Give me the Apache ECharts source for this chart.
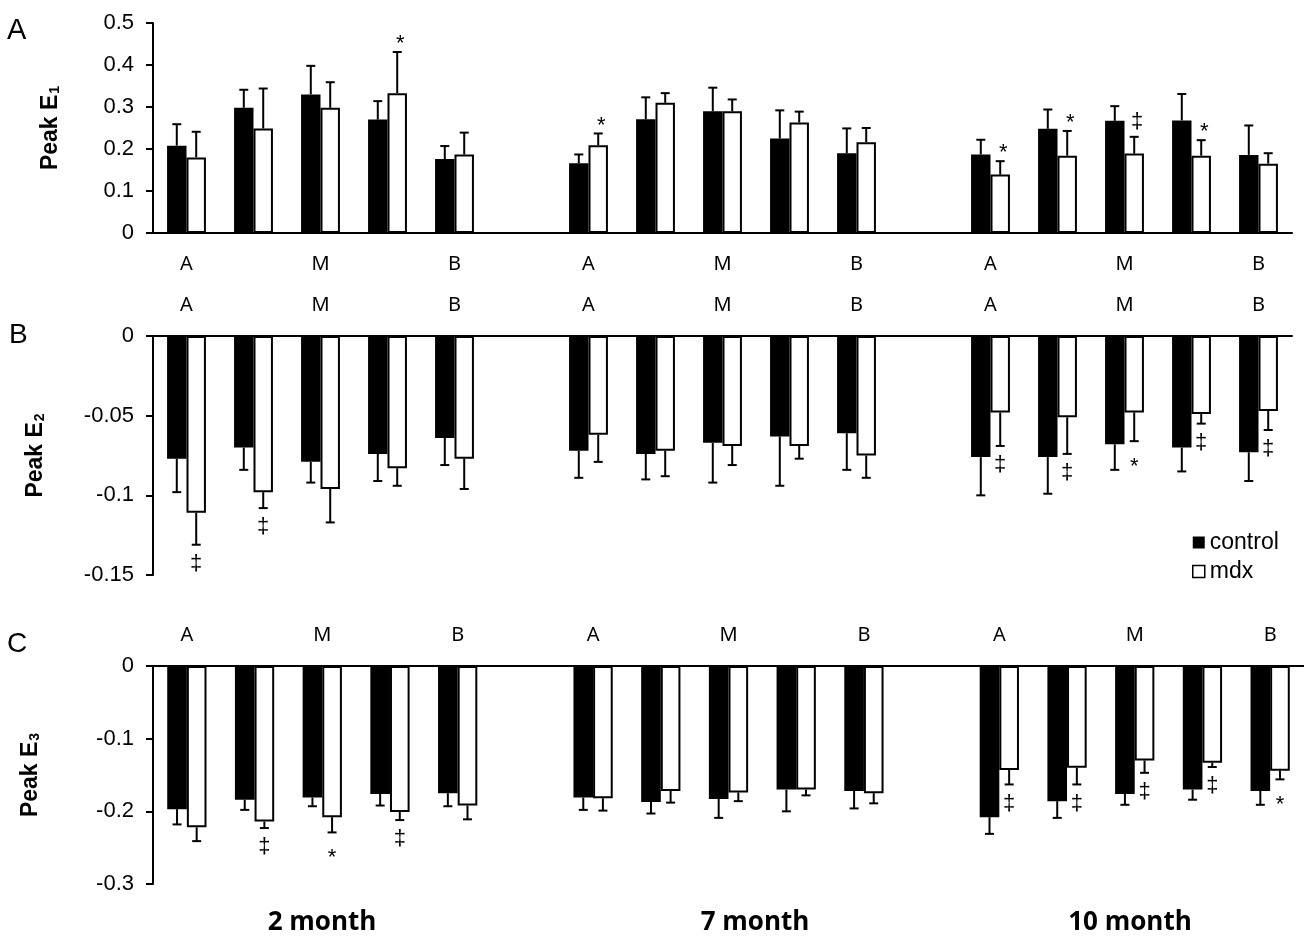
<!DOCTYPE html>
<html>
<head>
<meta charset="utf-8">
<title>Peak E1 E2 E3</title>
<script src="https://cdn.jsdelivr.net/npm/echarts@6/dist/echarts.min.js"></script>
<style>
  html, body { margin: 0; padding: 0; background: #fff; }
  #chart { width: 1304px; height: 939px; }
</style>
</head>
<body>
<div id="chart"></div>
<script>
// ages and site labels (A = apex, M = mid, B = base)
var ages = ['2 month', '7 month', '10 month'];
var sites = ['A', '', 'M', '', 'B'];

// Peak E1
var e1Control    = [0.208, 0.298, 0.330, 0.270, 0.176,  0.166, 0.271, 0.290, 0.225, 0.190,  0.187, 0.248, 0.267, 0.268, 0.186];
var e1ControlErr = [0.051, 0.043, 0.068, 0.044, 0.031,  0.021, 0.052, 0.056, 0.067, 0.059,  0.035, 0.046, 0.035, 0.063, 0.070];
var e1Mdx        = [0.180, 0.249, 0.298, 0.333, 0.187,  0.209, 0.310, 0.290, 0.263, 0.216,  0.139, 0.184, 0.189, 0.184, 0.165];
var e1MdxErr     = [0.061, 0.095, 0.061, 0.098, 0.052,  0.028, 0.023, 0.028, 0.026, 0.034,  0.032, 0.059, 0.040, 0.037, 0.025];
var e1Sig        = ['', '', '', '*', '',  '*', '', '', '', '',  '*', '*', '‡', '*', ''];

// Peak E2
var e2Control    = [-0.077, -0.070, -0.079, -0.074, -0.064,  -0.072, -0.074, -0.067, -0.063, -0.061,  -0.076, -0.076, -0.068, -0.070, -0.073];
var e2ControlErr = [0.021, 0.014, 0.013, 0.017, 0.017,  0.017, 0.016, 0.025, 0.031, 0.023,  0.024, 0.023, 0.016, 0.015, 0.018];
var e2Mdx        = [-0.111, -0.098, -0.096, -0.083, -0.077,  -0.062, -0.072, -0.069, -0.069, -0.075,  -0.048, -0.051, -0.048, -0.049, -0.047];
var e2MdxErr     = [0.020, 0.010, 0.021, 0.011, 0.019,  0.017, 0.016, 0.012, 0.008, 0.014,  0.021, 0.023, 0.018, 0.006, 0.012];
var e2Sig        = ['‡', '‡', '', '', '',  '', '', '', '', '',  '‡', '‡', '*', '‡', '‡'];

// Peak E3
var e3Control    = [-0.197, -0.184, -0.181, -0.176, -0.175,  -0.181, -0.187, -0.183, -0.170, -0.172,  -0.208, -0.186, -0.176, -0.170, -0.172];
var e3ControlErr = [0.021, 0.014, 0.012, 0.016, 0.018,  0.017, 0.016, 0.026, 0.030, 0.024,  0.023, 0.023, 0.015, 0.014, 0.019];
var e3Mdx        = [-0.222, -0.214, -0.208, -0.201, -0.192,  -0.182, -0.172, -0.174, -0.170, -0.175,  -0.143, -0.140, -0.130, -0.133, -0.144];
var e3MdxErr     = [0.019, 0.009, 0.021, 0.011, 0.019,  0.017, 0.016, 0.012, 0.008, 0.014,  0.020, 0.023, 0.017, 0.006, 0.012];
var e3Sig        = ['', '‡', '*', '‡', '',  '', '', '', '', '',  '‡', '‡', '‡', '‡', '*'];

var ARIAL = '"Liberation Sans", Arial, sans-serif';
var BAR_W = 0.29; // fraction of a category slot
// where the glyph's middle sits relative to the text box middle
var glyphMid = { '*': -5, '‡': 2 };

// 5 sites per age, one empty slot between ages
var cats = [];
ages.forEach(function (a, i) {
    sites.forEach(function (s) { cats.push(s); });
    if (i < ages.length - 1) cats.push(' ');
});
function slotOf(i) { return i + Math.floor(i / 5); }
function slots(arr) {
    var out = [];
    arr.forEach(function (v, i) {
        out.push(v);
        if (i % 5 == 4 && i < arr.length - 1) out.push('-');
    });
    return out;
}

function barSeries(name, idx, values) {
    var isCtl = name == 'control';
    return {
        name: name,
        type: 'bar',
        xAxisIndex: idx,
        yAxisIndex: idx,
        data: slots(values),
        barWidth: (BAR_W * 100) + '%',
        barGap: '0%',
        itemStyle: isCtl ? { color: '#000' } : { color: '#fff', borderColor: '#000', borderWidth: 2 },
        emphasis: { disabled: true },
        silent: true
    };
}

// error bars (and significance marks) drawn on top of bars
function errSeries(idx, values, errs, side, sig, sigDy) {
    var data = values.map(function (v, i) { return [slotOf(i), v, errs[i], i]; });
    return {
        type: 'custom',
        xAxisIndex: idx,
        yAxisIndex: idx,
        silent: true,
        z: 5,
        data: data,
        renderItem: function (params, api) {
            var s = api.value(0), v = api.value(1), e = api.value(2), k = api.value(3);
            var band = api.size([1, 0])[0];
            var base = api.coord([s, v]);
            var x = base[0] + side * band * BAR_W / 2;
            var end = api.coord([s, v >= 0 ? v + e : v - e]);
            var kids = [
                { type: 'line', shape: { x1: x, y1: base[1], x2: x, y2: end[1] }, style: { stroke: '#000', lineWidth: 2 } },
                { type: 'line', shape: { x1: x - 4.5, y1: end[1], x2: x + 4.5, y2: end[1] }, style: { stroke: '#000', lineWidth: 2 } }
            ];
            if (sig && sig[k]) {
                kids.push({
                    type: 'text',
                    x: x + (sigDy < 0 ? 3 : 0),
                    y: end[1] + sigDy - glyphMid[sig[k]],
                    style: { text: sig[k], fill: '#000', font: '22px ' + ARIAL, align: 'center', verticalAlign: 'middle' }
                });
            }
            return { type: 'group', children: kids };
        }
    };
}

function yName(n) {
    return {
        name: '{a|Peak E}{b|' + n + '}',
        nameLocation: 'middle',
        nameRotate: 90,
        nameTextStyle: {
            rich: {
                a: { fontFamily: ARIAL, fontSize: 23, fontWeight: 'bold', color: '#000' },
                b: { fontFamily: ARIAL, fontSize: 14, fontWeight: 'bold', color: '#000', verticalAlign: 'bottom', padding: [9, 0, 0, 1] }
            }
        }
    };
}

function yAxis(idx, min, max, step, gap) {
    var y = {
        gridIndex: idx,
        type: 'value',
        min: min, max: max, interval: step,
        axisLine: { show: true, lineStyle: { color: '#000', width: 2 } },
        axisTick: { show: true, length: 7, lineStyle: { color: '#000', width: 2 } },
        splitLine: { show: false },
        axisLabel: {
            margin: 19, color: '#000', fontFamily: ARIAL, fontSize: 22,
            formatter: function (v) { return String(+v.toFixed(2)); }
        },
        nameGap: gap
    };
    var n = yName(idx + 1);
    for (var key in n) y[key] = n[key];
    return y;
}

function xAxis(idx, pos) {
    return {
        gridIndex: idx,
        type: 'category',
        data: cats,
        position: pos,
        axisLine: { show: true, onZero: false, lineStyle: { color: '#000', width: 2 } },
        axisTick: { show: false },
        axisLabel: { interval: 0, margin: 21, color: '#000', fontFamily: '"Noto Sans", sans-serif', fontSize: 20 }
    };
}

var chart = echarts.init(document.getElementById('chart'), null, { renderer: 'canvas' });

chart.setOption({
    backgroundColor: '#fff',
    animation: false,
    grid: [
        { left: 153, top: 23, width: 1139, height: 210 },
        { left: 153, top: 336, width: 1139, height: 239 },
        { left: 153, top: 666, width: 1152, height: 218 }
    ],
    xAxis: [xAxis(0, 'bottom'), xAxis(1, 'top'), xAxis(2, 'top')],
    yAxis: [
        yAxis(0, 0, 0.5, 0.1, 91),
        yAxis(1, -0.15, 0, 0.05, 106),
        yAxis(2, -0.3, 0, 0.1, 111)
    ],
    legend: {
        data: [
            { name: 'control', itemStyle: { color: '#000' } },
            { name: 'mdx', itemStyle: { color: '#fff', borderColor: '#000', borderWidth: 1.5 } }
        ],
        orient: 'vertical',
        left: 1187,
        top: 526,
        icon: 'rect',
        itemWidth: 12,
        itemHeight: 12,
        itemGap: 6,
        textStyle: { fontFamily: ARIAL, fontSize: 23, color: '#000', padding: [0, 0, 0, 0] },
        selectedMode: false
    },
    graphic: [
        { type: 'text', left: 7, top: 16, style: { text: 'A', font: '29px ' + ARIAL, fill: '#000' } },
        { type: 'text', left: 9, top: 321, style: { text: 'B', font: '28px ' + ARIAL, fill: '#000' } },
        { type: 'text', left: 7, top: 630, style: { text: 'C', font: '28px ' + ARIAL, fill: '#000' } },
        { type: 'text', x: 322, y: 923, style: { text: ages[0], font: 'bold 26px "Open Sans", sans-serif', fill: '#000', align: 'center', verticalAlign: 'middle' } },
        { type: 'text', x: 755, y: 923, style: { text: ages[1], font: 'bold 26px "Open Sans", sans-serif', fill: '#000', align: 'center', verticalAlign: 'middle' } },
        { type: 'text', x: 1130, y: 923, style: { text: ages[2], font: 'bold 26px "Open Sans", sans-serif', fill: '#000', align: 'center', verticalAlign: 'middle' } }
    ],
    series: [
        barSeries('control', 0, e1Control),
        barSeries('mdx', 0, e1Mdx),
        errSeries(0, e1Control, e1ControlErr, -1, null, 0),
        errSeries(0, e1Mdx, e1MdxErr, 1, e1Sig, -13),

        barSeries('control', 1, e2Control),
        barSeries('mdx', 1, e2Mdx),
        errSeries(1, e2Control, e2ControlErr, -1, null, 0),
        errSeries(1, e2Mdx, e2MdxErr, 1, e2Sig, 21),

        barSeries('control', 2, e3Control),
        barSeries('mdx', 2, e3Mdx),
        errSeries(2, e3Control, e3ControlErr, -1, null, 0),
        errSeries(2, e3Mdx, e3MdxErr, 1, e3Sig, 21)
    ]
});
</script>
</body>
</html>
